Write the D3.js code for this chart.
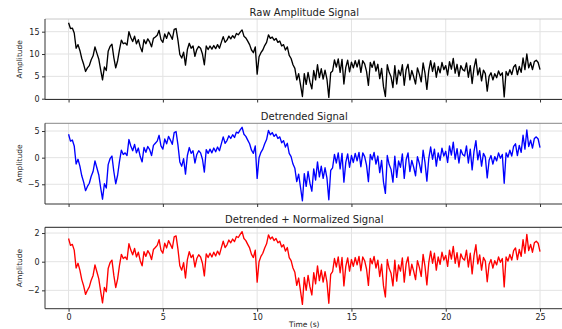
<!DOCTYPE html>
<html>
<head>
<meta charset="utf-8">
<script src="https://cdn.jsdelivr.net/npm/d3@7"></script>
<style>
  html, body { margin: 0; padding: 0; background: #fff; overflow: hidden; }
  svg { display: block; font-family: "DejaVu Sans", sans-serif; }
</style>
</head>
<body>
<svg id="chart" width="562" height="329"></svg>
<script>
// Sampling interval of the recording (seconds)
const sampleStep = 0.1;

// Raw amplitude samples, 0 s to 25 s
const rawSignal = [
  17.0, 15.7, 15.8, 14.7, 11.3, 12.1, 10.8, 9.0, 7.7, 6.1,
  6.9, 7.4, 8.7, 9.6, 11.6, 10.2, 8.9, 6.5, 4.2, 7.1,
  6.3, 10.6, 11.7, 12.2, 9.2, 6.9, 8.5, 11.0, 13.1, 12.3,
  12.5, 12.0, 15.0, 13.7, 12.8, 14.0, 12.3, 13.2, 11.6, 10.5,
  13.2, 12.3, 13.4, 12.7, 11.6, 13.5, 13.8, 14.2, 15.3, 13.2,
  12.6, 14.5, 13.5, 14.9, 14.2, 13.3, 15.5, 15.7, 13.1, 9.9,
  9.1, 10.4, 7.5, 11.0, 12.4, 11.3, 11.8, 9.5, 11.0, 11.7,
  11.3, 10.0, 7.6, 11.8, 11.0, 11.8, 11.1, 11.9, 11.2, 12.1,
  11.3, 12.6, 13.9, 12.6, 13.1, 14.0, 13.4, 14.1, 13.6, 14.6,
  14.3, 14.9, 15.4, 14.0, 13.6, 12.9, 12.1, 10.9, 10.3, 11.6,
  5.5, 9.4, 10.3, 10.9, 11.9, 12.6, 14.3, 13.5, 13.8, 13.1,
  13.5, 12.6, 12.9, 11.8, 12.1, 10.9, 11.6, 9.7, 9.0, 7.6,
  6.8, 4.2, 5.6, 3.1, 0.5, 5.6, 3.2, 5.9, 3.7, 2.2,
  6.3, 4.2, 7.6, 4.7, 6.7, 4.4, 6.4, 4.4, 0.3, 5.8,
  6.2, 8.7, 7.1, 8.9, 5.9, 8.8, 3.3, 7.0, 8.6, 6.0,
  8.2, 6.9, 8.5, 7.1, 8.7, 5.9, 8.5, 7.8, 6.1, 3.0,
  8.1, 7.0, 8.4, 6.2, 7.7, 4.5, 6.8, 2.7, 0.5, 7.6,
  5.9, 4.9, 2.5, 7.4, 3.3, 6.4, 5.2, 7.6, 3.0, 6.5,
  7.7, 4.2, 6.3, 4.9, 3.3, 6.9, 5.5, 3.8, 8.0, 5.7,
  2.1, 6.3, 8.5, 6.1, 8.0, 4.8, 7.2, 5.8, 8.1, 6.5,
  7.4, 5.3, 8.3, 6.6, 9.0, 5.7, 7.7, 5.0, 7.4, 6.5,
  6.2, 8.0, 4.8, 7.4, 3.4, 6.9, 8.9, 5.3, 6.9, 4.0,
  6.4, 5.6, 1.7, 5.0, 5.8, 4.2, 5.6, 4.7, 6.2, 5.2,
  5.8, 0.4, 6.1, 5.2, 6.5, 5.4, 7.1, 7.6, 5.4, 7.2,
  5.9, 9.1, 6.5, 10.0, 6.9, 8.1, 6.5, 8.3, 8.6, 8.1, 6.5
];

// Same recording with its linear trend removed
const detrendedSignal = [
  4.4, 3.1, 3.3, 2.2, -1.2, -0.3, -1.6, -3.4, -4.6, -6.2,
  -5.4, -4.8, -3.5, -2.6, -0.6, -1.9, -3.2, -5.6, -7.8, -4.9,
  -5.7, -1.3, -0.2, 0.3, -2.6, -4.9, -3.3, -0.7, 1.4, 0.6,
  0.9, 0.4, 3.4, 2.2, 1.3, 2.5, 0.9, 1.8, 0.2, -0.8,
  1.9, 1.0, 2.1, 1.5, 0.4, 2.3, 2.7, 3.1, 4.2, 2.2,
  1.6, 3.5, 2.6, 4.0, 3.3, 2.5, 4.7, 4.9, 2.4, -0.8,
  -1.6, -0.2, -3.1, 0.4, 1.9, 0.8, 1.3, -1.0, 0.6, 1.3,
  0.9, -0.3, -2.7, 1.5, 0.8, 1.6, 0.9, 1.8, 1.1, 2.0,
  1.3, 2.6, 3.9, 2.7, 3.2, 4.1, 3.6, 4.3, 3.8, 4.8,
  4.6, 5.2, 5.7, 4.4, 4.0, 3.3, 2.6, 1.4, 0.8, 2.2,
  -3.9, 0.0, 1.0, 1.6, 2.6, 3.4, 5.1, 4.3, 4.7, 4.0,
  4.4, 3.6, 3.9, 2.8, 3.2, 2.0, 2.7, 0.8, 0.2, -1.2,
  -2.0, -4.5, -3.1, -5.6, -8.1, -3.0, -5.4, -2.6, -4.8, -6.3,
  -2.1, -4.2, -0.8, -3.6, -1.6, -3.9, -1.9, -3.8, -7.9, -2.4,
  -1.9, 0.6, -1.0, 0.9, -2.1, 0.8, -4.6, -0.9, 0.7, -1.8,
  0.4, -0.9, 0.8, -0.6, 1.0, -1.7, 0.9, 0.2, -1.4, -4.5,
  0.6, -0.4, 1.0, -1.2, 0.3, -2.8, -0.5, -4.6, -6.7, 0.4,
  -1.3, -2.2, -4.6, 0.3, -3.7, -0.6, -1.8, 0.7, -3.9, -0.4,
  0.9, -2.6, -0.5, -1.8, -3.4, 0.2, -1.1, -2.8, 1.4, -0.9,
  -4.4, -0.2, 2.0, -0.3, 1.6, -1.6, 0.9, -0.5, 1.8, 0.3,
  1.2, -0.9, 2.2, 0.5, 2.9, -0.3, 1.7, -1.0, 1.5, 0.6,
  0.3, 2.2, -1.0, 1.6, -2.3, 1.2, 3.2, -0.4, 1.3, -1.6,
  0.8, 0.1, -3.8, -0.5, 0.4, -1.2, 0.2, -0.6, 0.9, -0.1,
  0.6, -4.8, 0.9, 0.1, 1.4, 0.3, 2.1, 2.6, 0.4, 2.3,
  1.0, 4.2, 1.6, 5.2, 2.1, 3.3, 1.8, 3.6, 3.9, 3.5, 1.9
];

// Detrended recording scaled to unit variance
const normalizedSignal = [
  1.62, 1.14, 1.21, 0.81, -0.44, -0.11, -0.59, -1.25, -1.69, -2.28,
  -1.99, -1.76, -1.29, -0.96, -0.22, -0.70, -1.18, -2.06, -2.87, -1.80,
  -2.10, -0.48, -0.07, 0.11, -0.96, -1.80, -1.21, -0.26, 0.51, 0.22,
  0.33, 0.15, 1.25, 0.81, 0.48, 0.92, 0.33, 0.66, 0.07, -0.29,
  0.70, 0.37, 0.77, 0.55, 0.15, 0.85, 0.99, 1.14, 1.54, 0.81,
  0.59, 1.29, 0.96, 1.47, 1.21, 0.92, 1.73, 1.80, 0.88, -0.29,
  -0.59, -0.07, -1.14, 0.15, 0.70, 0.29, 0.48, -0.37, 0.22, 0.48,
  0.33, -0.11, -0.99, 0.55, 0.29, 0.59, 0.33, 0.66, 0.40, 0.74,
  0.48, 0.96, 1.43, 0.99, 1.18, 1.51, 1.32, 1.58, 1.40, 1.76,
  1.69, 1.91, 2.10, 1.62, 1.47, 1.21, 0.96, 0.51, 0.29, 0.81,
  -1.43, 0.00, 0.37, 0.59, 0.96, 1.25, 1.87, 1.58, 1.73, 1.47,
  1.62, 1.32, 1.43, 1.03, 1.18, 0.74, 0.99, 0.29, 0.07, -0.44,
  -0.74, -1.65, -1.14, -2.06, -2.98, -1.10, -1.99, -0.96, -1.76, -2.32,
  -0.77, -1.54, -0.29, -1.32, -0.59, -1.43, -0.70, -1.40, -2.90, -0.88,
  -0.70, 0.22, -0.37, 0.33, -0.77, 0.29, -1.69, -0.33, 0.26, -0.66,
  0.15, -0.33, 0.29, -0.22, 0.37, -0.63, 0.33, 0.07, -0.51, -1.65,
  0.22, -0.15, 0.37, -0.44, 0.11, -1.03, -0.18, -1.69, -2.46, 0.15,
  -0.48, -0.81, -1.69, 0.11, -1.36, -0.22, -0.66, 0.26, -1.43, -0.15,
  0.33, -0.96, -0.18, -0.66, -1.25, 0.07, -0.40, -1.03, 0.51, -0.33,
  -1.62, -0.07, 0.74, -0.11, 0.59, -0.59, 0.33, -0.18, 0.66, 0.11,
  0.44, -0.33, 0.81, 0.18, 1.07, -0.11, 0.63, -0.37, 0.55, 0.22,
  0.11, 0.81, -0.37, 0.59, -0.85, 0.44, 1.18, -0.15, 0.48, -0.59,
  0.29, 0.04, -1.40, -0.18, 0.15, -0.44, 0.07, -0.22, 0.33, -0.04,
  0.22, -1.76, 0.33, 0.04, 0.51, 0.11, 0.77, 0.96, 0.15, 0.85,
  0.37, 1.54, 0.59, 1.91, 0.77, 1.21, 0.66, 1.32, 1.43, 1.29, 0.70
];

// Axis ticks
const timeTicks = [0, 5, 10, 15, 20, 25];
const rawTicks = [0, 5, 10, 15];
const detrendedTicks = [-5, 0, 5];
const normalizedTicks = [-2, 0, 2];

const panelTitles = ["Raw Amplitude Signal", "Detrended Signal", "Detrended + Normalized Signal"];
const yLabel = "Amplitude";
const xLabel = "Time (s)";

const svg = d3.select("#chart");
const left = 45, right = 563.6;

const x = d3.scaleLinear().domain([-1.25, 26.25]).range([left, right]);

const panels = [
  { title: panelTitles[0], values: rawSignal, ticks: rawTicks, color: "#000000",
    top: 19, bottom: 99.5, domain: [-0.18, 17.84], titleY: 15.5, topSpine: "#c8c8c8" },
  { title: panelTitles[1], values: detrendedSignal, ticks: detrendedTicks, color: "#0000ff",
    top: 123.3, bottom: 204, domain: [-8.7, 6.45], titleY: 119.6, topSpine: "#888888" },
  { title: panelTitles[2], values: normalizedSignal, ticks: normalizedTicks, color: "#ff0000",
    top: 227.3, bottom: 308.7, domain: [-3.28, 2.4], titleY: 223.3, topSpine: "#222222" }
];

panels.forEach((p, idx) => {
  const y = d3.scaleLinear().domain(p.domain).range([p.bottom, p.top]);
  const g = svg.append("g");

  // grid
  g.append("g").selectAll("line").data(timeTicks).join("line")
    .attr("x1", d => x(d)).attr("x2", d => x(d))
    .attr("y1", p.top).attr("y2", p.bottom)
    .attr("stroke", "#e3e3e3").attr("stroke-width", 1);
  g.append("g").selectAll("line").data(p.ticks).join("line")
    .attr("x1", left).attr("x2", right)
    .attr("y1", d => y(d)).attr("y2", d => y(d))
    .attr("stroke", "#e3e3e3").attr("stroke-width", 1);

  // signal trace
  const line = d3.line()
    .x((d, i) => x(i * sampleStep))
    .y(d => y(d));
  g.append("path")
    .datum(p.values)
    .attr("fill", "none")
    .attr("stroke", p.color)
    .attr("stroke-width", 1.35)
    .attr("stroke-linejoin", "round")
    .attr("d", line);

  // spines
  g.append("line").attr("x1", left).attr("x2", right).attr("y1", p.top).attr("y2", p.top)
    .attr("stroke", p.topSpine).attr("stroke-width", 1);
  g.append("line").attr("x1", left).attr("x2", right).attr("y1", p.bottom).attr("y2", p.bottom)
    .attr("stroke", "#333").attr("stroke-width", 1);
  g.append("line").attr("x1", left).attr("x2", left).attr("y1", p.top).attr("y2", p.bottom)
    .attr("stroke", "#333").attr("stroke-width", 1);

  // y axis
  const yAxis = d3.axisLeft(y).tickValues(p.ticks).tickSize(3).tickPadding(2.5)
    .tickFormat(d3.format("d"));
  const ya = g.append("g").attr("transform", `translate(${left},0)`).call(yAxis);
  ya.select(".domain").remove();
  ya.selectAll("line").attr("stroke", "#333");
  ya.selectAll("text").attr("font-size", 8).attr("fill", "#222")
    .attr("font-family", "DejaVu Sans, sans-serif");

  // x axis (labels only under the bottom panel)
  const xAxis = d3.axisBottom(x).tickValues(timeTicks).tickSize(3).tickPadding(3)
    .tickFormat(idx === 2 ? d3.format("d") : () => "");
  const xa = g.append("g").attr("transform", `translate(0,${p.bottom})`).call(xAxis);
  xa.select(".domain").remove();
  xa.selectAll("line").attr("stroke", "#333");
  xa.selectAll("text").attr("font-size", 8).attr("fill", "#222")
    .attr("font-family", "DejaVu Sans, sans-serif");

  // title
  g.append("text")
    .attr("x", (left + right) / 2).attr("y", p.titleY)
    .attr("text-anchor", "middle")
    .attr("font-size", 10).attr("fill", "#222")
    .text(p.title);

  // y label
  g.append("text")
    .attr("transform", `translate(22,${(p.top + p.bottom) / 2}) rotate(-90)`)
    .attr("text-anchor", "middle")
    .attr("font-size", 7.5).attr("fill", "#222")
    .text(yLabel);
});

svg.append("text")
  .attr("x", (left + right) / 2).attr("y", 326.5)
  .attr("text-anchor", "middle")
  .attr("font-size", 7.5).attr("fill", "#222")
  .text(xLabel);
</script>
</body>
</html>
